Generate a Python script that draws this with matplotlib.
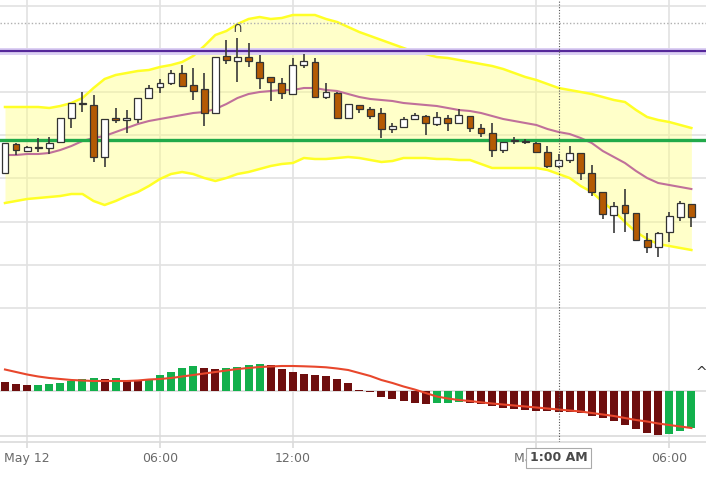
import matplotlib
matplotlib.use("Agg")
import matplotlib.pyplot as plt
import numpy as np

# 30 minute candles, 23:00 May 11 .. 06:00 May 13 (session break hidden)
opens  = [327, 356, 349, 352, 352, 358, 382, 396, 395, 343,
          382, 380, 381, 402, 413, 417, 427, 415, 411, 387,
          444, 439, 443, 438, 423, 417, 406, 435, 438, 403,
          407, 382, 395, 391, 387, 371, 373, 381, 384, 376,
          382, 377, 384, 372, 367, 350, 359, 358, 357, 348,
          334, 340, 347, 327, 308, 285, 295, 287, 260, 253,
          268, 283, 296]
highs  = [357, 357, 354, 362, 363, 382, 397, 408, 405, 381,
          392, 390, 402, 415, 421, 430, 435, 432, 427, 443,
          460, 462, 457, 445, 423, 422, 442, 446, 442, 417,
          408, 396, 395, 393, 392, 377, 383, 387, 385, 388,
          385, 391, 384, 376, 377, 358, 363, 361, 358, 354,
          346, 354, 347, 335, 308, 298, 311, 287, 267, 268,
          288, 299, 296]
lows   = [327, 345, 348, 348, 346, 357, 372, 388, 338, 333,
          377, 367, 377, 402, 407, 415, 413, 400, 374, 387,
          436, 418, 433, 411, 399, 401, 406, 432, 403, 401,
          382, 382, 387, 381, 362, 367, 372, 380, 365, 374,
          369, 376, 368, 363, 343, 347, 356, 356, 347, 332,
          332, 337, 320, 304, 281, 267, 268, 259, 247, 243,
          258, 279, 273]
closes = [357, 350, 353, 353, 357, 382, 397, 397, 343, 381,
          380, 382, 402, 412, 417, 427, 414, 409, 387, 443,
          440, 443, 439, 422, 418, 407, 435, 439, 403, 408,
          382, 396, 391, 384, 371, 374, 381, 385, 377, 383,
          377, 385, 372, 367, 350, 358, 360, 359, 348, 334,
          340, 347, 327, 308, 286, 294, 287, 260, 253, 267,
          284, 297, 283]

# bollinger bands
bb_upper = [393, 393, 393, 393, 392, 394, 397, 402, 412, 421,
            425, 427, 429, 430, 433, 435, 438, 444, 454, 465,
            469, 476, 481, 483, 481, 482, 485, 485, 485, 481,
            478, 473, 468, 464, 460, 456, 452, 448, 446, 443,
            442, 440, 438, 436, 434, 431, 427, 423, 420, 416,
            412, 410, 408, 406, 403, 400, 398, 390, 383, 380,
            378, 375, 372]
bb_mid = [345, 345, 346, 346, 347, 350, 354, 359, 362, 364,
          368, 372, 376, 379, 381, 383, 385, 387, 388, 391,
          396, 402, 406, 408, 409, 410, 410, 412, 412, 410,
          409, 406, 403, 401, 400, 399, 397, 396, 395, 394,
          392, 390, 389, 387, 384, 381, 379, 377, 375, 371,
          368, 366, 362, 357, 349, 343, 337, 329, 322, 317,
          315, 313, 311]
bb_lower = [297, 299, 301, 302, 303, 304, 306, 306, 299, 295,
            299, 304, 308, 314, 321, 326, 328, 326, 322, 319,
            322, 326, 328, 331, 334, 336, 337, 342, 341, 341,
            342, 343, 342, 340, 338, 339, 342, 342, 342, 341,
            341, 340, 340, 336, 332, 332, 332, 332, 332, 330,
            326, 322, 314, 308, 298, 289, 278, 268, 261, 256,
            254, 252, 250]

# macd histogram and signal
hist = [0.87, 0.73, 0.63, 0.65, 0.73, 0.83, 1.00, 1.20, 1.30, 1.23,
        1.27, 1.00, 0.97, 1.17, 1.63, 1.90, 2.27, 2.47, 2.30, 2.20,
        2.33, 2.37, 2.57, 2.70, 2.60, 2.17, 1.90, 1.73, 1.60, 1.47,
        1.20, 0.83, 0.15, -0.07, -0.57, -0.83, -1.00, -1.17, -1.30, -1.23,
        -1.17, -1.10, -1.17, -1.33, -1.50, -1.67, -1.80, -1.90, -2.00, -2.01,
        -2.07, -2.13, -2.23, -2.47, -2.70, -3.03, -3.40, -3.83, -4.20, -4.40,
        -4.30, -4.00, -3.67]
signal = [2.15, 1.90, 1.65, 1.45, 1.30, 1.20, 1.10, 1.05, 1.00, 1.00,
          1.00, 1.00, 1.05, 1.15, 1.20, 1.30, 1.45, 1.60, 1.75, 1.90,
          2.05, 2.20, 2.30, 2.40, 2.45, 2.50, 2.50, 2.47, 2.43, 2.37,
          2.25, 2.10, 1.80, 1.50, 1.10, 0.80, 0.45, 0.15, -0.20, -0.55,
          -0.75, -0.90, -1.00, -1.13, -1.25, -1.35, -1.45, -1.55, -1.65, -1.75,
          -1.85, -1.95, -2.05, -2.20, -2.35, -2.50, -2.70, -2.90, -3.05, -3.25,
          -3.40, -3.55, -3.70]

tick_idx = [2, 14, 26, 48, 60]
tick_labels = ["May 12", "06:00", "12:00", "May 13", "06:00"]
cursor_idx = 50
cursor_label = "1:00 AM"
fractal_idx = 21

resistance = 449
support = 360
prev_level = 477

n = len(closes)
x = np.arange(n)

fig = plt.figure(figsize=(7.06, 4.83), dpi=100)
ax = fig.add_axes([0, 1 - 330 / 483, 1, 330 / 483])
axh = fig.add_axes([0, 1 - 442 / 483, 1, 112 / 483], sharex=ax)

grid_c = "#e2e2e2"
ax.set_xlim(-0.45, 63.32)
ax.set_ylim(170, 500)
ax.set_yticks(np.arange(192, 500, 43.2))
ax.set_xticks(tick_idx)
ax.grid(True, color=grid_c, lw=1.2)
ax.set_axisbelow(True)
ax.tick_params(left=False, bottom=False, labelleft=False, labelbottom=False)
for s in ax.spines.values():
    s.set_visible(False)

# bands
ax.fill_between(x, bb_lower, bb_upper, color="#ffff80", alpha=0.42, lw=0, zorder=1)
ax.plot(x, bb_upper, color="#ffff26", lw=1.8, zorder=2)
ax.plot(x, bb_lower, color="#ffff26", lw=1.8, zorder=2)
ax.plot(x, bb_mid, color="#c0709a", lw=1.5, zorder=2)

# levels
ax.axhline(prev_level, color="#b0b0b0", lw=1, ls=(0, (1, 1.5)), zorder=2)
ax.axhline(resistance, color="#dcd0f4", lw=5, zorder=2)
ax.axhline(resistance, color="#55279a", lw=1.6, zorder=3)
ax.axhline(support, color="#22aa4a", lw=2.4, zorder=3)

# candles
w = 0.62
for i in range(n):
    o, h, l, c = opens[i], highs[i], lows[i], closes[i]
    up = c >= o
    ax.vlines(i, l, h, color="#3a3a3a", lw=1.2, zorder=4)
    bottom = min(o, c)
    height = max(abs(c - o), 1)
    ax.bar(i, height, w, bottom=bottom, color="white" if up else "#b45a04",
           edgecolor="#333333", lw=0.9, zorder=5)

ax.text(fractal_idx, highs[fractal_idx] + 3, "\u2229", ha="center", va="bottom",
        fontsize=10, color="#444444", zorder=6)

ax.axvline(cursor_idx, color="#555555", lw=0.8, ls=(0, (1, 1.5)), zorder=6)

# histogram panel
colors = ["#6e0e0e"]
for i in range(1, n):
    colors.append("#12b04c" if hist[i] > hist[i - 1] else "#6e0e0e")
axh.set_ylim(-5.1, 6.1)
axh.set_xticks(tick_idx)
axh.set_xticklabels(tick_labels)
axh.grid(True, axis="x", color=grid_c, lw=1.2)
axh.set_axisbelow(True)
axh.axhline(0, color="#dadada", lw=1.2, zorder=1)
axh.axhline(-4.5, color="#dadada", lw=1.2, zorder=1)
axh.bar(x, hist, 0.72, color=colors, zorder=3)
axh.plot(x, signal, color="#e8472c", lw=1.5, zorder=4)
axh.axvline(cursor_idx, color="#555555", lw=0.8, ls=(0, (1, 1.5)), zorder=5)
axh.tick_params(axis="x", colors="#dadada", length=4, width=1.2, pad=3,
                labelcolor="#6a6a6a", labelsize=9)
axh.tick_params(axis="y", left=False, labelleft=False)
for k, s in axh.spines.items():
    s.set_visible(k == "bottom")
axh.spines["bottom"].set_color("#dadada")
axh.spines["bottom"].set_linewidth(1.2)

# crosshair time label (covers part of the "May 13" tick label, as in the app)
axh.annotate(cursor_label, xy=(cursor_idx, 0), xycoords=("data", "axes fraction"),
             xytext=(0, -11.5), textcoords="offset points", ha="center", va="center",
             fontsize=9, fontweight="bold", color="#4a4a4a", zorder=10,
             annotation_clip=False,
             bbox=dict(boxstyle="square,pad=0.3", fc="white", ec="#aaaaaa", lw=0.8))
axh.text(0.993, 0.615, "^", transform=axh.transAxes, ha="center", va="center",
         fontsize=10, color="#333333")

fig.savefig("out.png", dpi=100)
